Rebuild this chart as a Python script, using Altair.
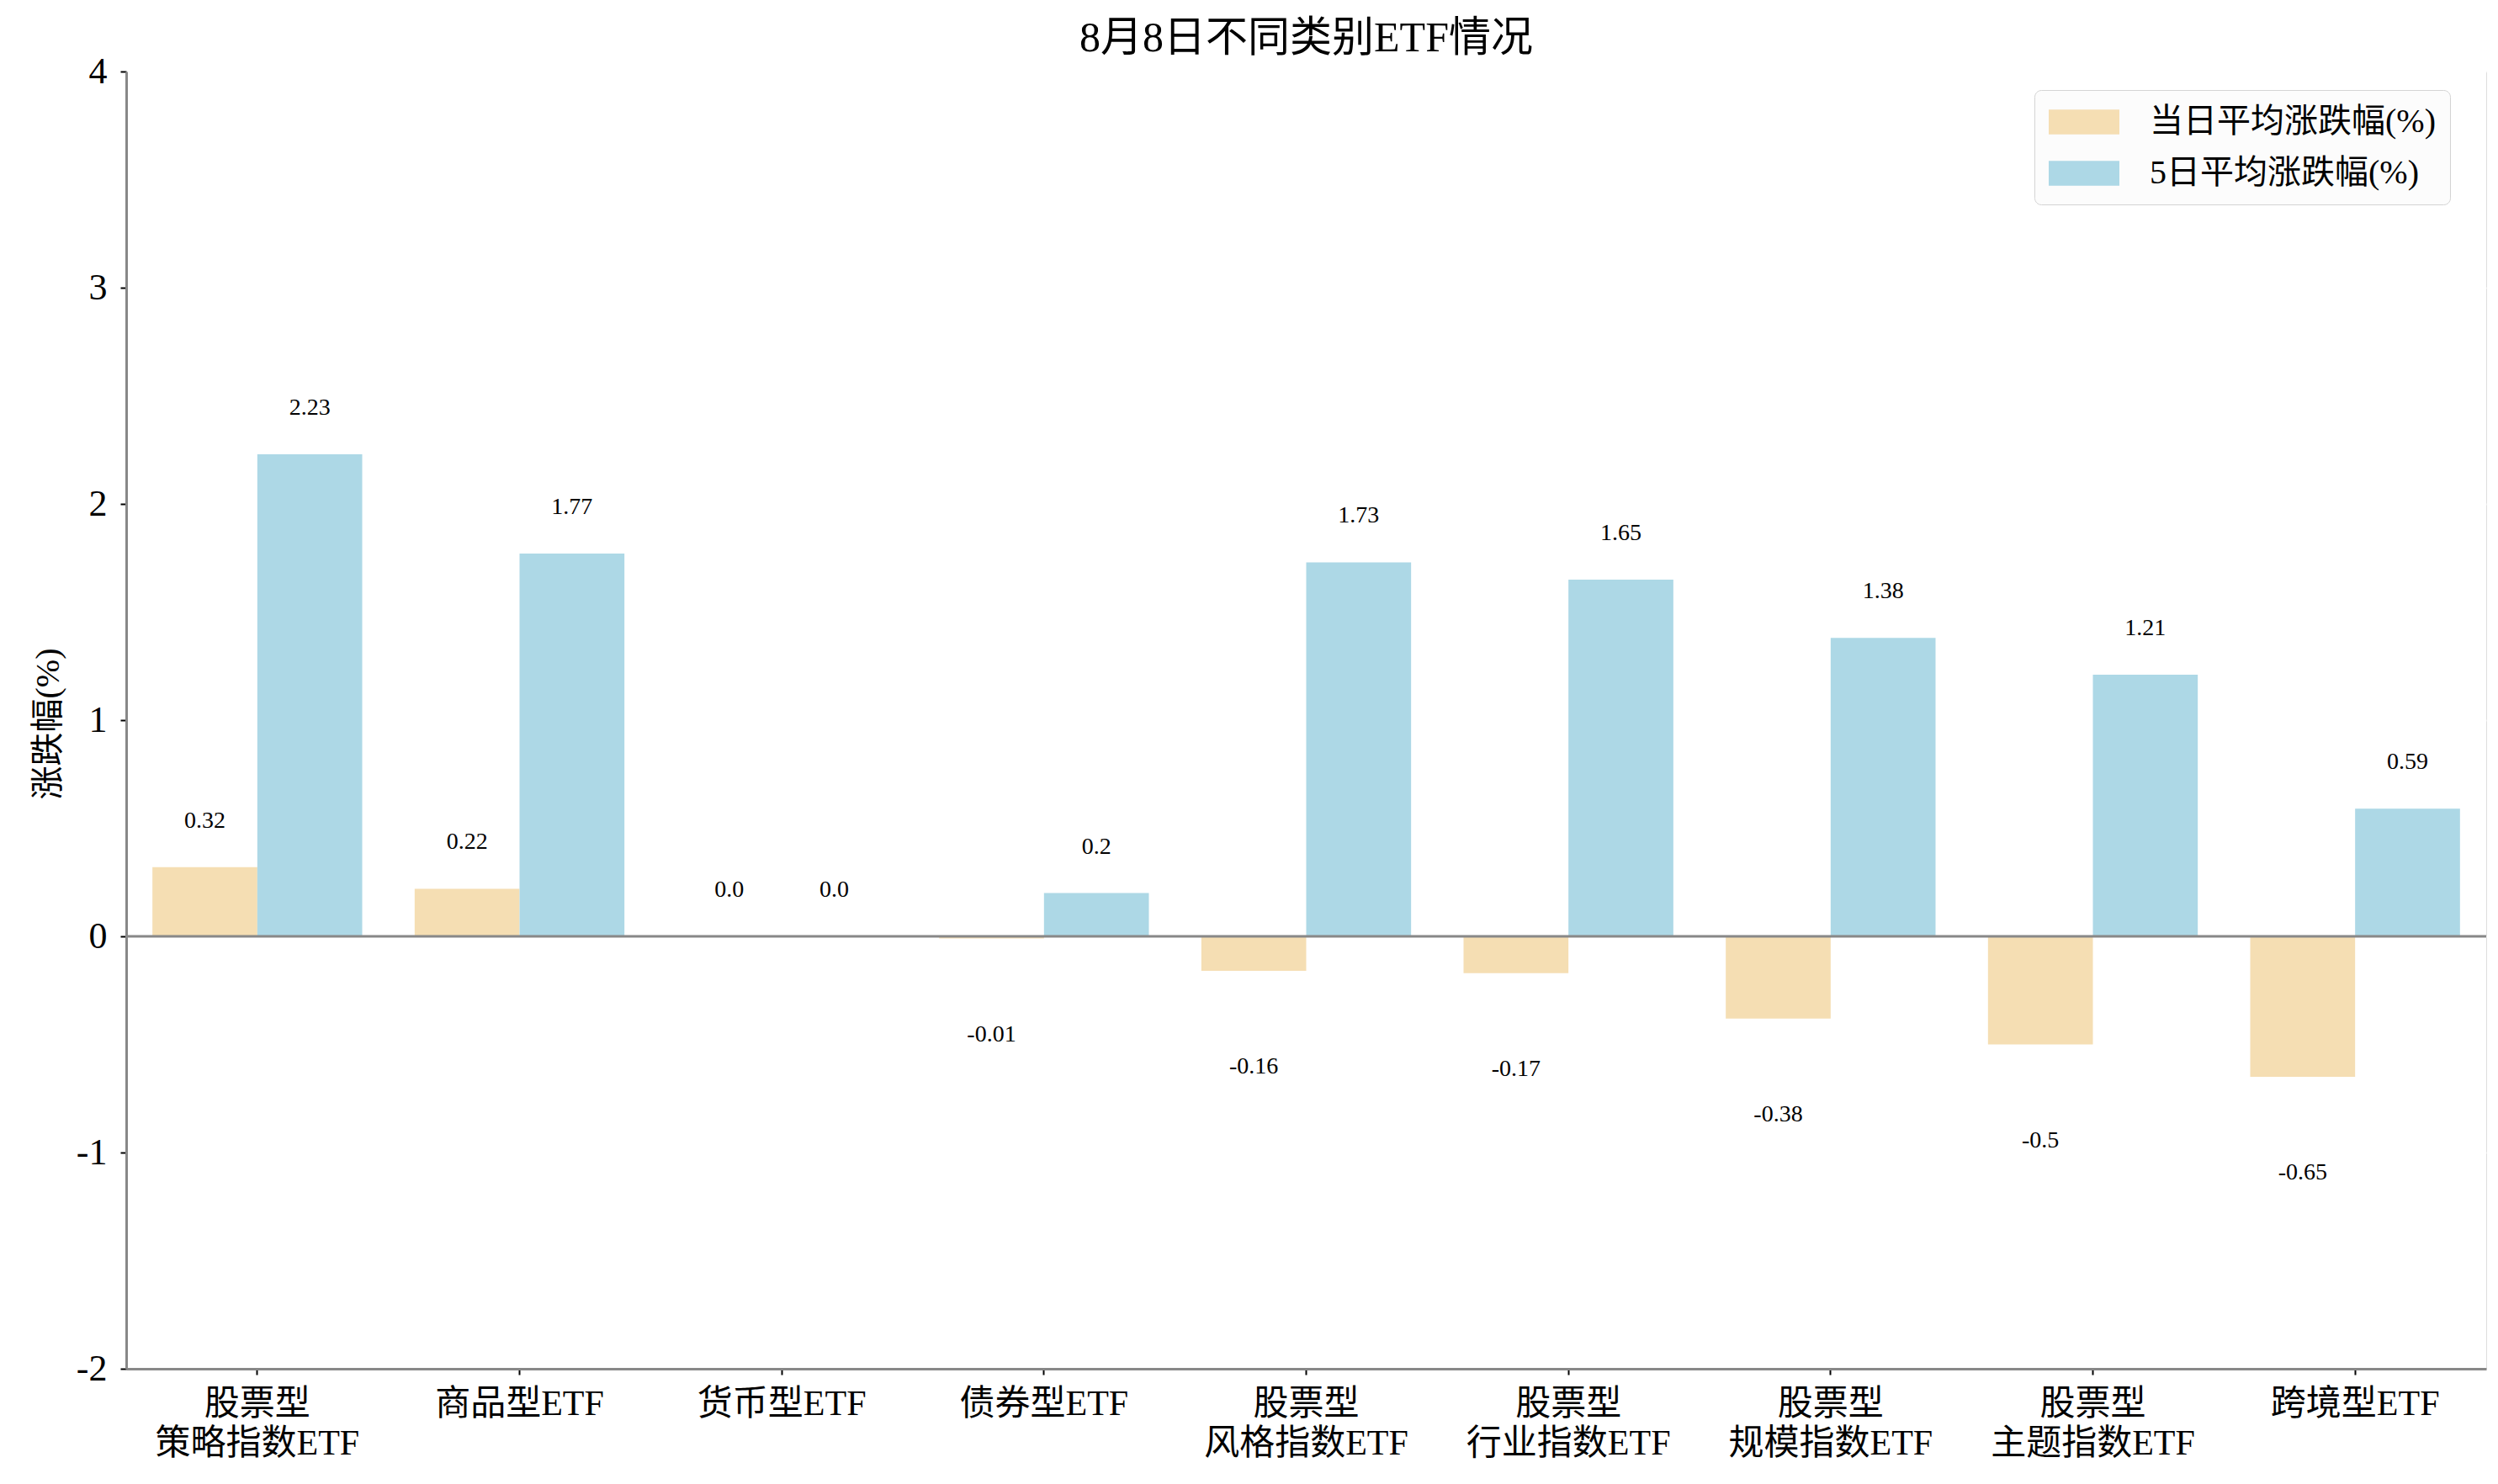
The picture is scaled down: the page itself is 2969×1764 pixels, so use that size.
import altair as alt
import pandas as pd

categories = ["股票型\n策略指数ETF", "商品型ETF", "货币型ETF", "债券型ETF",
              "股票型\n风格指数ETF", "股票型\n行业指数ETF", "股票型\n规模指数ETF",
              "股票型\n主题指数ETF", "跨境型ETF"]
series_names = ["当日平均涨跌幅(%)", "5日平均涨跌幅(%)"]
day_change = [0.32, 0.22, 0.0, -0.01, -0.16, -0.17, -0.38, -0.5, -0.65]
five_day_change = [2.23, 1.77, 0.0, 0.2, 1.73, 1.65, 1.38, 1.21, 0.59]
colors = ["#F5DEB3", "#ADD8E6"]
y_ticks = [-2, -1, 0, 1, 2, 3, 4]
title_text = "8月8日不同类别ETF情况"
y_title = "涨跌幅(%)"

FONT = "Liberation Serif, Noto Sans CJK SC, serif"

rows = []
for c, a, b in zip(categories, day_change, five_day_change):
    rows.append({"category": c, "series": series_names[0], "value": a})
    rows.append({"category": c, "series": series_names[1], "value": b})
df = pd.DataFrame(rows)
df["label"] = df["value"].astype(str)

x_enc = alt.X("category:N", sort=categories,
              scale=alt.Scale(paddingInner=0.2, paddingOuter=0.1),
              axis=alt.Axis(title=None, labelAngle=0, labelLimit=0,
                            labelExpr="split(datum.label, '\\n')",
                            labelFont=FONT, labelFontSize=42, labelColor="black",
                            labelLineHeight=47, labelPadding=14, labelBaseline="top",
                            tickSize=7, tickWidth=2, tickColor="black",
                            domainColor="#888888", domainWidth=3, grid=False))
xo_enc = alt.XOffset("series:N", sort=series_names,
                     scale=alt.Scale(domain=series_names, paddingInner=0, paddingOuter=0))
y_enc = alt.Y("value:Q",
              scale=alt.Scale(domain=[-2, 4], nice=False, zero=False),
              axis=alt.Axis(title=y_title, values=y_ticks,
                            labelExpr="'' + datum.value",
                            labelFont=FONT, labelFontSize=44, labelColor="black",
                            labelPadding=16, tickSize=7, tickWidth=2, tickColor="black",
                            domainColor="#888888", domainWidth=3,
                            grid=True, gridColor="white", gridWidth=2,
                            titleFont=FONT, titleFontSize=40, titleFontWeight="normal",
                            titleColor="black", titleX=-93, titleY=775,
                            titleAngle=270, titleAlign="center", titleBaseline="middle"))

base = alt.Chart(df)

legend_symbol = "M-1,-0.7H3V0.7H-1Z"

bars = base.mark_bar().encode(
    x=x_enc,
    xOffset=xo_enc,
    y=y_enc,
    color=alt.Color("series:N", sort=series_names,
                    scale=alt.Scale(domain=series_names, range=colors),
                    legend=alt.Legend(title=None, orient="none", legendX=2268, legendY=22,
                                      symbolType=legend_symbol, symbolSize=1764,
                                      symbolStrokeWidth=0, symbolOpacity=1,
                                      labelFont=FONT, labelFontSize=40, labelColor="black",
                                      labelOffset=78, rowPadding=20, padding=17,
                                      labelLimit=0,
                                      fillColor="#fcfcfc", strokeColor="#d4d4d4",
                                      cornerRadius=8)),
)

zero_rule = alt.Chart(pd.DataFrame({"z": [0]})).mark_rule(
    color="#888888", strokeWidth=3
).encode(y=alt.Y("z:Q"))

pos_text = base.transform_filter("datum.value >= 0").mark_text(
    dy=-55, fontSize=28, font=FONT, color="black", baseline="middle", align="center"
).encode(x=alt.X("category:N", sort=categories), xOffset=alt.XOffset("series:N", sort=series_names),
         y=alt.Y("value:Q"), text="label:N")

neg_text = base.transform_filter("datum.value < 0").mark_text(
    dy=114, fontSize=28, font=FONT, color="black", baseline="middle", align="center"
).encode(x=alt.X("category:N", sort=categories), xOffset=alt.XOffset("series:N", sort=series_names),
         y=alt.Y("value:Q"), text="label:N")

chart = alt.layer(bars, zero_rule, pos_text, neg_text).properties(
    width=2805, height=1542,
    title=alt.TitleParams(title_text, font=FONT, fontSize=50, fontWeight="normal",
                          color="black", anchor="middle", offset=16, dy=24),
    autosize=alt.AutoSizeParams(type="none"),
    padding={"left": 142, "top": 77, "right": 6, "bottom": 120},
).configure_view(
    fill="#f4f4f4", strokeWidth=0
).configure(background="white")

chart.save("out.html", embed_options={"renderer": "svg", "actions": False})
